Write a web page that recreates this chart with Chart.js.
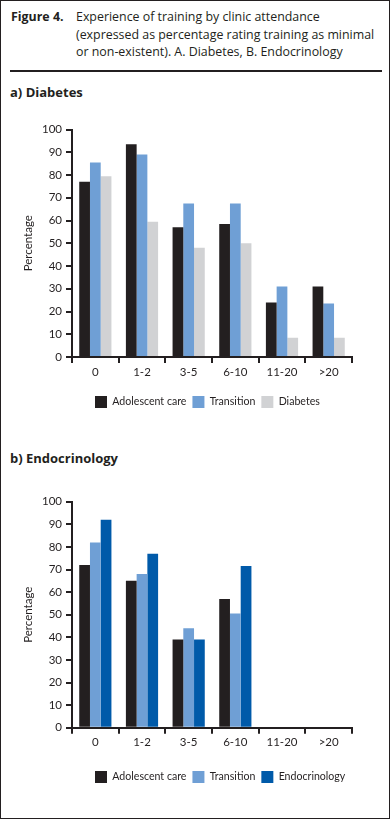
<!DOCTYPE html>
<html lang="en">
<head>
<meta charset="UTF-8">
<title>Figure 4</title>
<script src="https://cdn.jsdelivr.net/npm/chart.js"></script>
<style>
    html, body { margin: 0; padding: 0; background: #fff; }
    body { width: 390px; height: 819px; position: relative; font-family: "Open Sans", sans-serif; color: #231f20; overflow: hidden; }
    .frame { position: absolute; left: 0; top: 0; width: 388px; height: 817px; border: 1px solid #231f20; }
    .caption { position: absolute; left: 11px; top: 8px; font-size: 12.4px; line-height: 17.5px; }
    .caption b { position: absolute; left: 0; top: 0; font-weight: 700; }
    .caption div { margin-left: 65px; }
    .rule { position: absolute; left: 10px; top: 70px; width: 372px; height: 2px; background: #231f20; }
    .panel { position: absolute; left: 10px; font-size: 13px; font-weight: 700; }
    canvas { position: absolute; left: 1px; }
</style>
</head>
<body>
<div class="frame"></div>
<div class="caption">
    <b>Figure 4.</b>
    <div>Experience of training by clinic attendance<br>(expressed as percentage rating training as minimal<br>or non-existent). A. Diabetes, B. Endocrinology</div>
</div>
<div class="rule"></div>
<div class="panel" style="top:83px">a) Diabetes</div>
<div class="panel" style="top:449px">b) Endocrinology</div>
<canvas id="chartA" width="388" height="310" style="top:110px"></canvas>
<canvas id="chartB" width="388" height="315" style="top:480px"></canvas>

<script>
    const categories = ['0', '1-2', '3-5', '6-10', '11-20', '>20'];

    // a) Diabetes
    const diabAdolescent = [77, 93.5, 57, 58.5, 24, 31];
    const diabTransition = [85.5, 89, 67.5, 67.5, 31, 23.5];
    const diabDiabetes = [79.5, 59.5, 48, 50, 8.5, 8.5];

    // b) Endocrinology
    const endoAdolescent = [72, 65, 39, 57, null, null];
    const endoTransition = [82, 68, 44, 50.5, null, null];
    const endoEndocrinology = [92, 77, 39, 71.5, null, null];

    const yTicks = [0, 10, 20, 30, 40, 50, 60, 70, 80, 90, 100];

    const ink = '#231f20';
    const colors = {
        adolescent: '#231f20',
        transition: '#6f9fd5',
        diabetes: '#d1d2d4',
        endocrinology: '#005aa9'
    };

    Chart.defaults.font.family = 'Lato, "Open Sans", sans-serif';
    Chart.defaults.color = ink;

    // legend sits left-aligned under the plot, not centred on the canvas
    const legendShift = {
        id: 'legendShift',
        afterLayout(chart) {
            chart.legend.left += 88;
            chart.legend.right += 88;
        }
    };

    function makeChart(id, series, padTop, xHeight) {
        const ctx = document.getElementById(id).getContext('2d');
        return new Chart(ctx, {
            type: 'bar',
            data: {
                labels: categories,
                datasets: series.map(s => ({
                    label: s.label,
                    data: s.data,
                    backgroundColor: s.color,
                    borderWidth: 0,
                    categoryPercentage: 0.69,
                    barPercentage: 1.0
                }))
            },
            plugins: [legendShift],
            options: {
                responsive: false,
                animation: false,
                layout: { padding: { top: padTop, right: 37, bottom: 2, left: 0 } },
                plugins: {
                    tooltip: { enabled: false },
                    legend: {
                        position: 'bottom',
                        align: 'start',
                        labels: {
                            boxWidth: 12,
                            boxHeight: 12,
                            padding: 6,
                            font: { size: 10.6 },
                            color: ink
                        }
                    }
                },
                scales: {
                    x: {
                        grid: {
                            offset: true,
                            drawOnChartArea: false,
                            drawTicks: true,
                            tickLength: 6,
                            color: ink,
                            lineWidth: 2
                        },
                        border: { color: ink, width: 2 },
                        ticks: { font: { size: 11.5 }, color: ink, padding: 2, maxRotation: 0 },
                        afterFit: s => { s.height = xHeight; }
                    },
                    y: {
                        min: 0,
                        max: 100,
                        afterBuildTicks: s => { s.ticks = yTicks.map(v => ({ value: v })); },
                        grid: {
                            drawOnChartArea: false,
                            drawTicks: true,
                            tickLength: 6,
                            color: ink,
                            lineWidth: 2
                        },
                        border: { color: ink, width: 2 },
                        ticks: { font: { size: 11.5 }, color: ink, padding: 4 },
                        title: {
                            display: true,
                            text: 'Percentage',
                            font: { size: 11.5 },
                            color: ink,
                            padding: { top: 20, bottom: 0 }
                        },
                        afterFit: s => { s.width = 71; }
                    }
                }
            }
        });
    }

    makeChart('chartA', [
        { label: 'Adolescent care', data: diabAdolescent, color: colors.adolescent },
        { label: 'Transition', data: diabTransition, color: colors.transition },
        { label: 'Diabetes', data: diabDiabetes, color: colors.diabetes }
    ], 19.5, 33);

    makeChart('chartB', [
        { label: 'Adolescent care', data: endoAdolescent, color: colors.adolescent },
        { label: 'Transition', data: endoTransition, color: colors.transition },
        { label: 'Endocrinology', data: endoEndocrinology, color: colors.endocrinology }
    ], 21.7, 37.3);
</script>
</body>
</html>
